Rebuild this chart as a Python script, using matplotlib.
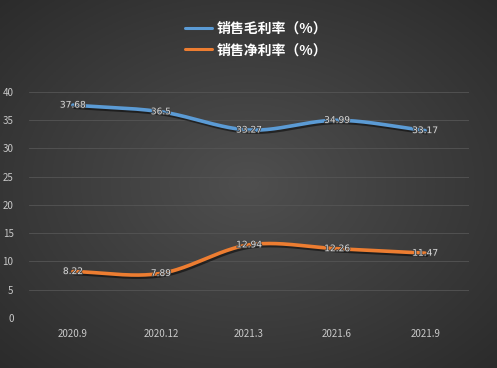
import numpy as np
import matplotlib.pyplot as plt
import matplotlib.patheffects as pe

plt.rcParams['font.family'] = ['Noto Sans CJK SC', 'DejaVu Sans']

periods = ['2020.9', '2020.12', '2021.3', '2021.6', '2021.9']
gross_margin = [37.68, 36.5, 33.27, 34.99, 33.17]
net_margin = [8.22, 7.89, 12.94, 12.26, 11.47]
series_names = ['销售毛利率（%）', '销售净利率（%）']
colors = ['#5b9bd5', '#ed7d31']


def smooth(y, n=40):
    # catmull-rom curve through the points, like excel's smoothed line
    p = np.array(y, dtype=float)
    p = np.concatenate([[2 * p[0] - p[1]], p, [2 * p[-1] - p[-2]]])
    xs, ys = [], []
    for i in range(1, len(p) - 2):
        t = np.linspace(0, 1, n)
        p0, p1, p2, p3 = p[i - 1], p[i], p[i + 1], p[i + 2]
        yy = 0.5 * ((2 * p1) + (-p0 + p2) * t + (2 * p0 - 5 * p1 + 4 * p2 - p3) * t**2
                    + (-p0 + 3 * p1 - 3 * p2 + p3) * t**3)
        xs.append(i - 1 + t)
        ys.append(yy)
    return np.concatenate(xs), np.concatenate(ys)


fig = plt.figure(figsize=(4.97, 3.68), dpi=100)

# radial dark background
bg = fig.add_axes([0, 0, 1, 1], zorder=-10)
gx, gy = np.meshgrid(np.linspace(-1, 1, 300), np.linspace(-1, 1, 220))
r = np.sqrt(gx**2 + gy**2) / np.sqrt(2)
shade = 0.31 - 0.14 * r
bg.imshow(np.dstack([shade, shade, shade]), aspect='auto', extent=[0, 1, 0, 1])
bg.axis('off')

ax = fig.add_axes([0.058, 0.136, 0.886, 0.614])
ax.patch.set_alpha(0)
for s in ax.spines.values():
    s.set_visible(False)
ax.set_xlim(-0.5, len(periods) - 0.5)
ax.set_ylim(0, 40)
ax.set_yticks(range(0, 41, 5))
ax.set_xticks(range(len(periods)))
ax.set_xticklabels(periods)
ax.tick_params(length=0, colors='#c8c8c8', labelsize=7)
ax.tick_params(axis='y', pad=11)
ax.tick_params(axis='x', pad=8)
ax.grid(axis='y', color='#555555', linewidth=0.6)
ax.set_axisbelow(True)

shadow = [pe.SimpleLineShadow(offset=(1, -1.5), shadow_color='black', alpha=0.5), pe.Normal()]
handles = []
for vals, name, c in zip([gross_margin, net_margin], series_names, colors):
    sx, sy = smooth(vals)
    ln, = ax.plot(sx, sy, color=c, linewidth=2.6, solid_capstyle='round',
                  path_effects=shadow, label=name)
    handles.append(ln)
    for i, v in enumerate(vals):
        ax.text(i, v, f'{v:g}', ha='center', va='center', fontsize=6.5, color='#d9d9d9',
                family=['DejaVu Sans'],
                path_effects=[pe.withStroke(linewidth=1.2, foreground='#404040')])

leg = fig.legend(handles=handles, loc='upper center', bbox_to_anchor=(0.515, 0.975),
                 frameon=False, ncol=1, fontsize=10, labelspacing=0.55,
                 handlelength=2.0, handletextpad=0.3)
for t in leg.get_texts():
    t.set_color('white')
    t.set_fontweight('bold')
for h in leg.legend_handles:
    h.set_path_effects([])
    h.set_linewidth(2.2)

fig.savefig('out.png', dpi=100)
